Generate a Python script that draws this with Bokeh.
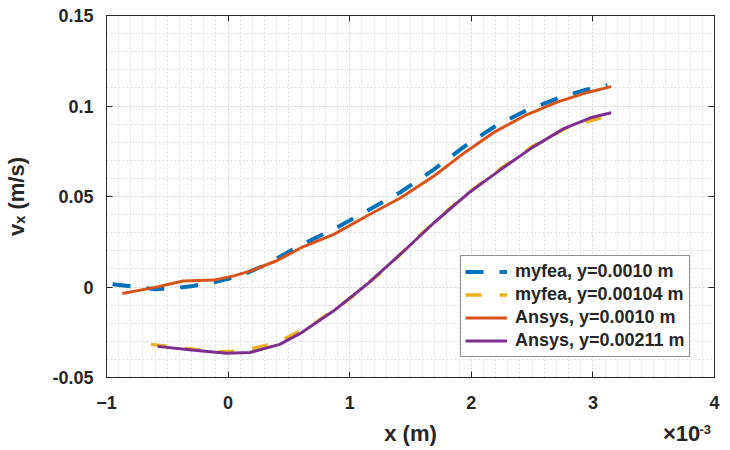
from bokeh.plotting import figure
from bokeh.models import (ColumnDataSource, LinearAxis, SingleIntervalTicker, FixedTicker,
                          CustomJSTickFormatter, Legend, LegendItem, Label, Range1d)
from bokeh.embed import file_html
from bokeh.resources import INLINE

# x values in units of 1e-3 m
fea1_x = [-0.95, -0.8, -0.6, -0.45, -0.29, -0.1, 0.1, 0.3, 0.6, 0.87, 1.14, 1.42, 1.69, 1.95, 2.2, 2.45, 2.7, 2.93, 3.12]
fea1_v = [0.0015, 0.0004, -0.0012, -0.0008, 0.0006, 0.0028, 0.0062, 0.0120, 0.0232, 0.0320, 0.0420, 0.0525, 0.0648, 0.0780, 0.0890, 0.0975, 0.1040, 0.1088, 0.1115]

fea2_x = [-0.635, -0.4, -0.1, 0.1, 0.4, 0.7, 1.0, 1.3, 1.6, 1.9, 2.2, 2.5, 2.8, 3.15]
fea2_v = [-0.0317, -0.0335, -0.0358, -0.0355, -0.0308, -0.0205, -0.0065, 0.0105, 0.0300, 0.0480, 0.0635, 0.0775, 0.0885, 0.0950]

ans1_x = [-0.87, -0.6, -0.37, -0.12, 0.04, 0.2, 0.4, 0.6, 0.87, 1.14, 1.42, 1.69, 1.95, 2.2, 2.45, 2.7, 2.93, 3.15]
ans1_v = [-0.0036, -0.0002, 0.0033, 0.0038, 0.0060, 0.0092, 0.0145, 0.0217, 0.0291, 0.0392, 0.0493, 0.0612, 0.0745, 0.0860, 0.0950, 0.1020, 0.1070, 0.1107]

ans2_x = [-0.58, -0.3, -0.015, 0.178, 0.425, 0.59, 0.866, 1.142, 1.417, 1.693, 1.969, 2.244, 2.5, 2.76, 2.98, 3.15]
ans2_v = [-0.0328, -0.0348, -0.0366, -0.0362, -0.0317, -0.0258, -0.0133, 0.0015, 0.0181, 0.0355, 0.0515, 0.0650, 0.0770, 0.0875, 0.0935, 0.0963]

labels = ["myfea, y=0.0010 m", "myfea, y=0.00104 m", "Ansys, y=0.0010 m", "Ansys, y=0.00211 m"]
colors = ["#0072BD", "#EDB120", "#D95319", "#7E2F8E"]

# texts of the lower title row (x-axis label and the x10^-3 multiplier)
title_row_pos = [1.5, 3.73]
title_row_txt = ["x (m)", "×10"]

FONT = "Liberation Sans"
DARK = "#262626"

p = figure(width=730, height=450,
           x_range=Range1d(-1, 4), y_range=Range1d(-0.05, 0.15 + 1e-9),
           output_backend="svg", toolbar_location=None,
           min_border_left=106, min_border_right=16, min_border_top=15, min_border_bottom=73,
           background_fill_color="white", border_fill_color="white")
p.outline_line_color = None

xt = SingleIntervalTicker(interval=1, num_minor_ticks=10)
yt = SingleIntervalTicker(interval=0.05, num_minor_ticks=5)

xb = p.below[0]
yl = p.left[0]
xb.ticker = xt
yl.ticker = yt
yl.formatter = CustomJSTickFormatter(code="return String(Math.round(tick*1000)/1000);")
p.xgrid.ticker = xt
p.ygrid.ticker = yt

blank = CustomJSTickFormatter(code="return '';")
top = LinearAxis(ticker=xt, formatter=blank)
right = LinearAxis(ticker=yt, formatter=blank)
p.add_layout(top, "above")
p.add_layout(right, "right")

for ax in [xb, yl, top, right]:
    ax.axis_line_color = DARK
    ax.axis_line_width = 1
    ax.major_tick_in = 6
    ax.major_tick_out = 0
    ax.major_tick_line_color = DARK
    ax.minor_tick_line_color = None
    ax.major_label_text_font = FONT
    ax.major_label_text_font_style = "bold"
    ax.major_label_text_font_size = "18px"
    ax.major_label_text_color = DARK

for ax in [top, right]:
    ax.major_label_standoff = 0

xb.major_label_standoff = 14
yl.major_label_standoff = 9
yl.axis_label = "vₓ (m/s)"
yl.axis_label_text_font = FONT
yl.axis_label_text_font_style = "bold"
yl.axis_label_text_font_size = "22px"
yl.axis_label_text_color = DARK
yl.axis_label_standoff = 20

# second row under the tick labels: "x (m)" and "x10"
row_fmt = CustomJSTickFormatter(
    args=dict(pos=title_row_pos, txt=title_row_txt),
    code="""
let best = 0;
for (let i = 1; i < pos.length; i++) {
  if (Math.abs(pos[i] - tick) < Math.abs(pos[best] - tick)) best = i;
}
return txt[best];
""")
row_axis = LinearAxis(ticker=FixedTicker(ticks=title_row_pos), formatter=row_fmt)
row_axis.axis_line_color = None
row_axis.major_tick_line_color = None
row_axis.minor_tick_line_color = None
row_axis.major_tick_in = 0
row_axis.major_tick_out = 0
row_axis.major_label_standoff = 9
row_axis.major_label_text_font = FONT
row_axis.major_label_text_font_style = "bold"
row_axis.major_label_text_font_size = "22px"
row_axis.major_label_text_color = DARK
p.add_layout(row_axis, "below")

p.grid.grid_line_color = "#d6d6d6"
p.grid.grid_line_dash = "2 2"
p.grid.minor_grid_line_color = "#dedede"
p.grid.minor_grid_line_dash = "2 2"

s1 = ColumnDataSource(dict(x=fea1_x, v=fea1_v))
s2 = ColumnDataSource(dict(x=fea2_x, v=fea2_v))
s3 = ColumnDataSource(dict(x=ans1_x, v=ans1_v))
s4 = ColumnDataSource(dict(x=ans2_x, v=ans2_v))

r1 = p.line("x", "v", source=s1, line_color=colors[0], line_width=4, line_dash="18 16")
r2 = p.line("x", "v", source=s2, line_color=colors[1], line_width=3.5, line_dash="16 18")
r3 = p.line("x", "v", source=s3, line_color=colors[2], line_width=3)
r4 = p.line("x", "v", source=s4, line_color=colors[3], line_width=3)

legend = Legend(items=[LegendItem(label=labels[0], renderers=[r1]),
                       LegendItem(label=labels[1], renderers=[r2]),
                       LegendItem(label=labels[2], renderers=[r3]),
                       LegendItem(label=labels[3], renderers=[r4])],
                location=(354, 20))
legend.label_text_font = FONT
legend.label_text_font_style = "bold"
legend.label_text_font_size = "18px"
legend.label_text_color = DARK
legend.glyph_width = 42
legend.glyph_height = 23
legend.label_height = 23
legend.spacing = 0
legend.padding = 4
legend.margin = 0
legend.label_standoff = 8
legend.border_line_color = DARK
legend.border_line_width = 1
legend.background_fill_color = "white"
legend.background_fill_alpha = 1
p.add_layout(legend)

# superscript exponent of the multiplier (canvas pixels, placed in the narrow right panel)
p.add_layout(Label(x=699, y=429, text="-3", text_font_size="13px", x_units="canvas",
                   y_units="canvas", text_font=FONT, text_font_style="bold", text_color=DARK,
                   text_align="left", text_baseline="alphabetic"), "right")

open("out.html", "w").write(file_html(p, INLINE))
